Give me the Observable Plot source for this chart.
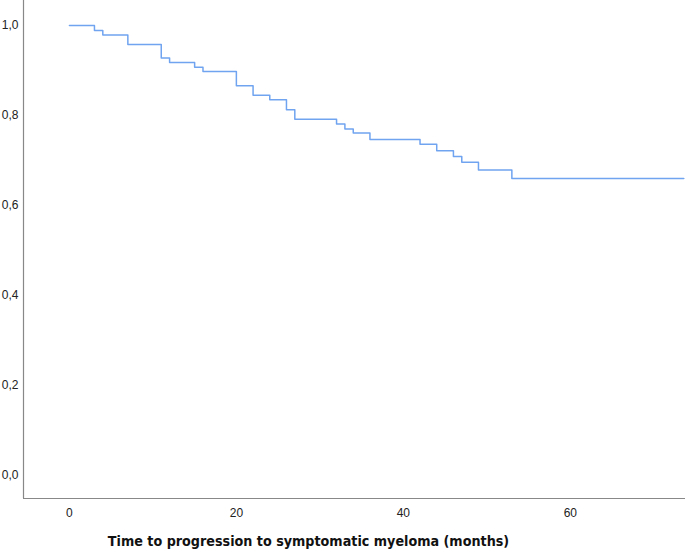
<!DOCTYPE html>
<html>
<head>
<meta charset="utf-8">
<script src="https://cdn.jsdelivr.net/npm/d3@7"></script>
<script src="https://cdn.jsdelivr.net/npm/@observablehq/plot@0.6"></script>
<style>
  body { margin: 0; background: #fff; }
  #chart svg { display: block; }
</style>
</head>
<body>
<div id="chart"></div>
<script>
const months = [0, 3, 4, 7, 11, 12, 15, 16, 20, 22, 24, 26, 27, 32, 33, 34, 36, 42, 44, 46, 47, 49, 53, 73.6];
const survival = [1.0, 0.989, 0.979, 0.958, 0.928, 0.918, 0.907, 0.898, 0.866, 0.845, 0.835, 0.813, 0.792, 0.781, 0.770, 0.761, 0.747, 0.736, 0.722, 0.709, 0.696, 0.679, 0.660, 0.660];
const xTicks = [0, 20, 40, 60];
const yTicks = [0, 0.2, 0.4, 0.6, 0.8, 1.0];
const xTitle = "Time to progression to symptomatic myeloma (months)";

const data = months.map((m, i) => ({m, s: survival[i]}));
const fmt = d => d.toFixed(1).replace(".", ",");

const chart = Plot.plot({
  width: 685,
  height: 553,
  marginLeft: 23,
  marginRight: 0,
  marginTop: 0,
  marginBottom: 55,
  style: {fontFamily: "'Liberation Sans', Arial, sans-serif", fontSize: "12px", color: "#222"},
  x: {domain: [-5.5, 73.8]},
  y: {domain: [-0.051, 1.0556]},
  marks: [
    Plot.axisY({ticks: yTicks, tickFormat: fmt, tickSize: 0, tickPadding: 5, label: null, fontSize: 12}),
    Plot.axisX({ticks: xTicks, tickSize: 0, tickPadding: 10, label: null, fontSize: 12}),
    Plot.text([xTitle], {frameAnchor: "bottom", dx: -46, dy: 47, text: d => d,
      fontWeight: "bold", fontSize: 14.2, fontFamily: "'Liberation Sans Narrow', 'DejaVu Sans Condensed', sans-serif", fill: "#111"}),
    Plot.ruleX([0], {x: () => -5.5, stroke: "#888", strokeWidth: 1.2}),
    Plot.ruleY([0], {y: () => -0.051, stroke: "#888", strokeWidth: 1.2}),
    Plot.line(data, {x: "m", y: "s", curve: "step-after", stroke: "#70a4f0", strokeWidth: 1.5})
  ]
});
document.getElementById("chart").appendChild(chart);
</script>
</body>
</html>
